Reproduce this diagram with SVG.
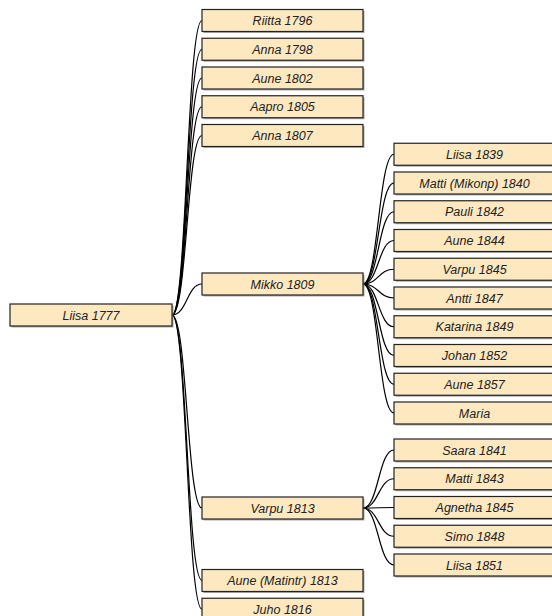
<svg xmlns="http://www.w3.org/2000/svg" width="552" height="616" viewBox="0 0 552 616">
<style>
.box rect.b{fill:#fde8c0;stroke:#222;stroke-width:1.2}
.box rect.s{fill:#777;opacity:0.6}
.box text{font-family:"Liberation Sans",Arial,sans-serif;font-style:italic;font-size:12.5px;fill:#222;text-anchor:middle}
.c path{fill:none;stroke:#000;stroke-width:1.2}
</style>
<rect width="552" height="616" fill="#fff"/>
<g class="c" id="connectors">
<path d="M172,315 C187,315 187,20.5 202,20.5"/>
<path d="M172,315 C187,315 187,49.25 202,49.25"/>
<path d="M172,315 C187,315 187,78 202,78"/>
<path d="M172,315 C187,315 187,106.75 202,106.75"/>
<path d="M172,315 C187,315 187,135.5 202,135.5"/>
<path d="M172,315 C187,315 187,284 202,284"/>
<path d="M172,315 C187,315 187,508 202,508"/>
<path d="M172,315 C187,315 187,580.5 202,580.5"/>
<path d="M172,315 C187,315 187,609.25 202,609.25"/>
<path d="M363,284 C378.5,284 378.5,154.25 394,154.25"/>
<path d="M363,284 C378.5,284 378.5,183 394,183"/>
<path d="M363,284 C378.5,284 378.5,211.75 394,211.75"/>
<path d="M363,284 C378.5,284 378.5,240.5 394,240.5"/>
<path d="M363,284 C378.5,284 378.5,269.25 394,269.25"/>
<path d="M363,284 C378.5,284 378.5,298 394,298"/>
<path d="M363,284 C378.5,284 378.5,326.75 394,326.75"/>
<path d="M363,284 C378.5,284 378.5,355.5 394,355.5"/>
<path d="M363,284 C378.5,284 378.5,384.25 394,384.25"/>
<path d="M363,284 C378.5,284 378.5,413 394,413"/>
<path d="M363,508 C378.5,508 378.5,450 394,450"/>
<path d="M363,508 C378.5,508 378.5,478.75 394,478.75"/>
<path d="M363,508 C378.5,508 378.5,507.5 394,507.5"/>
<path d="M363,508 C378.5,508 378.5,536.25 394,536.25"/>
<path d="M363,508 C378.5,508 378.5,565 394,565"/>
</g>
<g class="box" id="n-liisa1777"><rect class="s" x="11.5" y="305.5" width="162" height="22"/><rect class="b" x="10" y="304" width="162" height="22"/><text x="91" y="319.5">Liisa 1777</text></g>
<g class="box" id="n-riitta1796"><rect class="s" x="203.5" y="11" width="161" height="22"/><rect class="b" x="202" y="9.5" width="161" height="22"/><text x="282.5" y="25">Riitta 1796</text></g>
<g class="box" id="n-anna1798"><rect class="s" x="203.5" y="39.75" width="161" height="22"/><rect class="b" x="202" y="38.25" width="161" height="22"/><text x="282.5" y="53.75">Anna 1798</text></g>
<g class="box" id="n-aune1802"><rect class="s" x="203.5" y="68.5" width="161" height="22"/><rect class="b" x="202" y="67" width="161" height="22"/><text x="282.5" y="82.5">Aune 1802</text></g>
<g class="box" id="n-aapro1805"><rect class="s" x="203.5" y="97.25" width="161" height="22"/><rect class="b" x="202" y="95.75" width="161" height="22"/><text x="282.5" y="111.25">Aapro 1805</text></g>
<g class="box" id="n-anna1807"><rect class="s" x="203.5" y="126" width="161" height="22"/><rect class="b" x="202" y="124.5" width="161" height="22"/><text x="282.5" y="140">Anna 1807</text></g>
<g class="box" id="n-mikko1809"><rect class="s" x="203.5" y="274.5" width="161" height="22"/><rect class="b" x="202" y="273" width="161" height="22"/><text x="282.5" y="288.5">Mikko 1809</text></g>
<g class="box" id="n-varpu1813"><rect class="s" x="203.5" y="498.5" width="161" height="22"/><rect class="b" x="202" y="497" width="161" height="22"/><text x="282.5" y="512.5">Varpu 1813</text></g>
<g class="box" id="n-aune1813"><rect class="s" x="203.5" y="571" width="161" height="22"/><rect class="b" x="202" y="569.5" width="161" height="22"/><text x="282.5" y="585">Aune (Matintr) 1813</text></g>
<g class="box" id="n-juho1816"><rect class="s" x="203.5" y="599.75" width="161" height="22"/><rect class="b" x="202" y="598.25" width="161" height="22"/><text x="282.5" y="613.75">Juho 1816</text></g>
<g class="box" id="n-liisa1839"><rect class="s" x="395.5" y="144.75" width="161" height="22"/><rect class="b" x="394" y="143.25" width="161" height="22"/><text x="474.5" y="158.75">Liisa 1839</text></g>
<g class="box" id="n-matti1840"><rect class="s" x="395.5" y="173.5" width="161" height="22"/><rect class="b" x="394" y="172" width="161" height="22"/><text x="474.5" y="187.5">Matti (Mikonp) 1840</text></g>
<g class="box" id="n-pauli1842"><rect class="s" x="395.5" y="202.25" width="161" height="22"/><rect class="b" x="394" y="200.75" width="161" height="22"/><text x="474.5" y="216.25">Pauli 1842</text></g>
<g class="box" id="n-aune1844"><rect class="s" x="395.5" y="231" width="161" height="22"/><rect class="b" x="394" y="229.5" width="161" height="22"/><text x="474.5" y="245">Aune 1844</text></g>
<g class="box" id="n-varpu1845"><rect class="s" x="395.5" y="259.75" width="161" height="22"/><rect class="b" x="394" y="258.25" width="161" height="22"/><text x="474.5" y="273.75">Varpu 1845</text></g>
<g class="box" id="n-antti1847"><rect class="s" x="395.5" y="288.5" width="161" height="22"/><rect class="b" x="394" y="287" width="161" height="22"/><text x="474.5" y="302.5">Antti 1847</text></g>
<g class="box" id="n-katarina1849"><rect class="s" x="395.5" y="317.25" width="161" height="22"/><rect class="b" x="394" y="315.75" width="161" height="22"/><text x="474.5" y="331.25">Katarina 1849</text></g>
<g class="box" id="n-johan1852"><rect class="s" x="395.5" y="346" width="161" height="22"/><rect class="b" x="394" y="344.5" width="161" height="22"/><text x="474.5" y="360">Johan 1852</text></g>
<g class="box" id="n-aune1857"><rect class="s" x="395.5" y="374.75" width="161" height="22"/><rect class="b" x="394" y="373.25" width="161" height="22"/><text x="474.5" y="388.75">Aune 1857</text></g>
<g class="box" id="n-maria"><rect class="s" x="395.5" y="403.5" width="161" height="22"/><rect class="b" x="394" y="402" width="161" height="22"/><text x="474.5" y="417.5">Maria</text></g>
<g class="box" id="n-saara1841"><rect class="s" x="395.5" y="440.5" width="161" height="22"/><rect class="b" x="394" y="439" width="161" height="22"/><text x="474.5" y="454.5">Saara 1841</text></g>
<g class="box" id="n-matti1843"><rect class="s" x="395.5" y="469.25" width="161" height="22"/><rect class="b" x="394" y="467.75" width="161" height="22"/><text x="474.5" y="483.25">Matti 1843</text></g>
<g class="box" id="n-agnetha1845"><rect class="s" x="395.5" y="498" width="161" height="22"/><rect class="b" x="394" y="496.5" width="161" height="22"/><text x="474.5" y="512">Agnetha 1845</text></g>
<g class="box" id="n-simo1848"><rect class="s" x="395.5" y="526.75" width="161" height="22"/><rect class="b" x="394" y="525.25" width="161" height="22"/><text x="474.5" y="540.75">Simo 1848</text></g>
<g class="box" id="n-liisa1851"><rect class="s" x="395.5" y="555.5" width="161" height="22"/><rect class="b" x="394" y="554" width="161" height="22"/><text x="474.5" y="569.5">Liisa 1851</text></g>
</svg>
